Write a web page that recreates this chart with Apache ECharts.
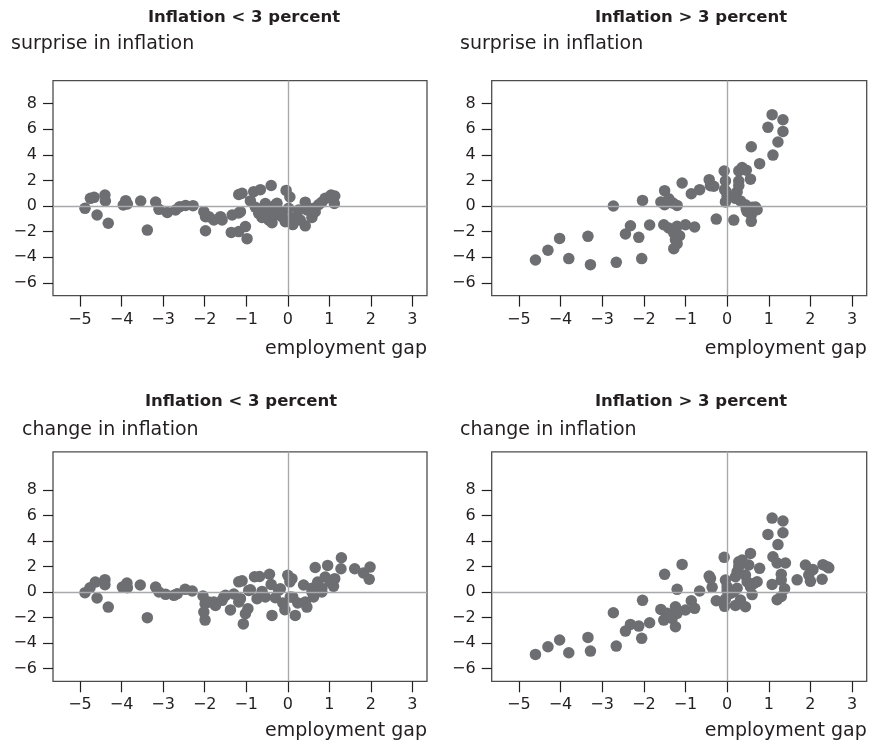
<!DOCTYPE html>
<html>
<head>
<meta charset="utf-8">
<script src="https://cdn.jsdelivr.net/npm/echarts@6/dist/echarts.min.js"></script>
<style>
  html, body { margin: 0; padding: 0; background: #ffffff; }
  #chart { width: 869px; height: 746px; }
</style>
</head>
<body>
<div id="chart"></div>
<script>
// Employment gap (x) vs. inflation measure (y), split by inflation regime.
const surpriseLow = [
  [-4.88,-0.18],[-4.75,0.6],[-4.66,0.68],[-4.4,0.86],[-4.39,0.39],[-4.59,-0.7],[-4.32,-1.35],
  [-3.96,0.08],[-3.9,0.42],[-3.86,0.16],[-3.54,0.39],[-3.38,-1.88],
  [-3.18,0.31],[-3.1,-0.26],[-2.9,-0.5],[-2.7,-0.31],[-2.6,-0.05],[-2.46,0.05],[-2.28,0.03],
  [-2.02,-0.44],[-1.98,-0.83],[-1.98,-1.93],[-1.9,-0.83],[-1.78,-1.09],[-1.62,-0.83],[-1.58,-1.09],
  [-1.34,-0.7],[-1.18,-0.55],[-1.14,-0.44],
  [-1.36,-2.06],[-1.18,-2.0],[-1.02,-1.61],[-0.98,-2.55],
  [-1.18,0.9],[-1.1,1.0],[-0.82,1.12],[-0.66,1.28],[-0.4,1.6],
  [-0.9,0.4],[-0.78,-0.1],[-0.7,-0.57],[-0.62,-0.9],[-0.58,-0.3],[-0.54,0.2],[-0.46,-1.09],
  [-0.46,-0.31],[-0.38,-1.3],[-0.3,0.08],[-0.3,-0.7],[-0.22,-0.35],[-0.26,0.21],[-0.14,-0.83],[-0.14,-0.5],
  [-0.04,1.22],[0.05,0.7],[0.02,-0.18],[-0.06,-1.22],[0.1,-0.96],[0.12,-1.45],[0.22,-0.83],[0.26,-0.31],
  [0.42,0.3],[0.46,-0.31],[0.42,-1.55],[0.58,-0.9],[0.66,-0.44],[0.74,0.1],[0.82,0.3],[0.9,0.6],
  [1.04,0.86],[1.13,0.78],[1.12,0.2],[0.3,-1.1],[0.6,-0.2]
];

const surpriseHigh = [
  [-4.6,-4.22],[-4.3,-3.46],[-4.02,-2.53],[-3.8,-4.11],[-3.34,-2.37],[-3.28,-4.58],[-2.66,-4.4],
  [-2.73,0],[-2.44,-2.19],[-2.32,-1.54],[-2.12,-2.45],[-2.05,-4.11],[-2.03,0.44],[-1.86,-1.48],
  [-1.59,0.31],[-1.5,1.2],[-1.5,0.1],[-1.4,0.57],[-1.3,0.23],[-1.2,0.05],[-1.52,-1.46],[-1.4,-1.72],
  [-1.28,-2.11],[-1.2,-1.59],[-1.14,-2.32],[-1.24,-2.63],[-1.2,-2.94],[-1.28,-3.33],[-1.08,1.8],
  [-1.0,-1.46],[-0.78,-1.64],[-0.86,0.96],[-0.66,1.28],[-0.43,2.06],[-0.4,1.59],[-0.32,1.54],
  [-0.26,-1.02],[-0.07,2.74],[-0.04,1.96],[-0.06,1.28],[-0.02,1.1],[0,0.76],[-0.04,0.32],[0.16,-1.1],
  [0.24,1.1],[0.28,1.6],[0.28,1.95],[0.28,2.75],[0.36,3.0],[0.46,2.8],[0.56,2.1],[0.58,4.63],[0.78,3.31],
  [0.2,0.6],[0.32,0.4],[0.44,0.1],[0.46,-0.23],[0.6,-0.1],[0.68,-0.08],[0.72,-0.29],[0.58,-0.68],
  [0.58,-1.2],[0.48,-0.42],[0.98,6.15],[1.08,7.14],[1.34,6.74],[1.34,5.83],[1.22,5.0],[1.1,3.98]
];

const changeLow = [
  [-4.88,-0.05],[-4.76,0.34],[-4.63,0.78],[-4.4,0.97],[-4.4,0.58],[-4.59,-0.47],[-4.32,-1.18],
  [-3.98,0.39],[-3.87,0.71],[-3.86,0.34],[-3.55,0.55],[-3.38,-2.01],[-3.18,0.39],[-3.1,0],
  [-2.94,-0.18],[-2.74,-0.26],[-2.66,-0.13],[-2.47,0.21],[-2.3,0.08],[-2.04,-0.31],[-2.02,-1.57],
  [-1.99,-0.92],[-1.99,-2.2],[-1.9,-0.78],[-1.78,-0.78],[-1.74,-1.05],[-1.58,-0.65],[-1.54,-0.39],
  [-1.5,-0.26],[-1.38,-1.4],[-1.3,-0.15],[-1.18,-0.78],[-1.14,-0.52],[-1.18,0.8],[-1.1,0.88],
  [-1.07,-2.5],[-1.02,-1.7],[-0.96,-1.3],[-0.94,0.13],[-0.9,0.18],[-0.8,1.2],[-0.68,1.22],
  [-0.74,-0.52],[-0.62,0.05],[-0.54,-0.39],[-0.44,1.4],[-0.4,0.6],[-0.38,-1.83],[-0.3,-0.45],
  [-0.22,0.15],[-0.18,0.26],[-0.12,-0.85],[-0.07,-1.39],[0.0,1.31],[0.05,0.8],[0.1,1.05],
  [0.06,-0.39],[0.12,-0.4],[0.18,-1.83],[0.24,-0.85],[0.38,0.55],[0.42,-0.78],[0.46,-1.18],
  [0.58,0.3],[0.58,0],[0.62,-0.39],[0.66,1.93],[0.72,0.78],[0.82,0.3],[0.82,0],[0.9,1.18],
  [0.96,2.09],[1.02,0.78],[1.1,0.45],[1.13,1.05],[1.28,1.83],[1.29,2.69],[1.61,1.83],[1.82,1.5],
  [1.98,1.96],[1.96,1.0]
];

const changeHigh = [
  [-4.6,-4.89],[-4.3,-4.29],[-4.02,-3.76],[-3.8,-4.76],[-3.34,-3.56],[-3.28,-4.63],[-2.66,-4.24],
  [-2.73,-1.62],[-2.44,-3.06],[-2.32,-2.54],[-2.12,-2.67],[-2.05,-3.63],[-2.03,-0.65],[-1.86,-2.41],
  [-1.59,-1.36],[-1.5,1.39],[-1.52,-2.2],[-1.44,-1.67],[-1.32,-2.07],[-1.24,-1.15],[-1.2,-1.67],
  [-1.24,-2.72],[-1.2,0.21],[-1.08,2.17],[-1.0,-1.41],[-0.86,-0.68],[-0.78,-1.28],[-0.66,0.08],
  [-0.43,1.25],[-0.36,0.37],[-0.4,1.07],[-0.26,-0.68],[-0.07,2.72],[-0.04,0.94],[0,0.42],[0,0.1],
  [-0.04,-0.55],[-0.06,-1.12],[0.08,-0.1],[0.16,0.03],[0.2,-1.05],[0.24,0.29],[0.28,2.38],[0.36,2.51],
  [0.24,1.59],[0.28,2.0],[0.2,1.2],[0.32,-0.63],[0.44,-1.15],[0.44,1.33],[0.48,0.81],[0.56,3.03],
  [0.6,-0.2],[0.52,2.12],[0.78,1.86],[0.64,0.68],[0.72,0.81],[0.56,0.42],[0.98,4.52],[1.08,5.8],
  [1.34,5.57],[1.34,4.65],[1.22,3.72],[1.1,2.77],[1.2,2.28],[1.4,2.28],[1.3,1.4],[1.3,0.94],
  [1.08,0.6],[1.38,0.25],[1.2,-0.6],[1.3,-0.34],[1.68,0.96],[1.88,2.12],[2.0,0.84],[2.06,1.76],
  [2.28,1.0],[2.3,2.15],[2.44,1.9],[2.4,1.99],[1.96,1.33]
];

const xTicks = [-5, -4, -3, -2, -1, 0, 1, 2, 3];
const yTicks = [-6, -4, -2, 0, 2, 4, 6, 8];

const panelTitles = ['Inflation < 3 percent', 'Inflation > 3 percent', 'Inflation < 3 percent', 'Inflation > 3 percent'];
const yNames = ['surprise in inflation', 'surprise in inflation', 'change in inflation', 'change in inflation'];
const xName = 'employment gap';
const panelData = [surpriseLow, surpriseHigh, changeLow, changeHigh];

// Plot-box geometry for each of the four panels
const layout = [
  { left: 53,    top: 80.6,  width: 374, height: 215,   yMin: -7, yMax: 9.8, titleX: 244, titleY: 18,  yNameX: 11,  yNameY: 44,  xNameY: 349 },
  { left: 491.7, top: 80.6,  width: 375, height: 215,   yMin: -7, yMax: 9.8, titleX: 691, titleY: 18,  yNameX: 460, yNameY: 44,  xNameY: 349 },
  { left: 53,    top: 451.8, width: 374, height: 229.5, yMin: -7, yMax: 11,  titleX: 241, titleY: 402, yNameX: 22,  yNameY: 430, xNameY: 731 },
  { left: 491.7, top: 451.8, width: 375, height: 229.5, yMin: -7, yMax: 11,  titleX: 691, titleY: 402, yNameX: 460, yNameY: 430, xNameY: 731 }
];

const FONT = '"DejaVu Sans", sans-serif';
const TEXT = '#231f20';
const DOT = '#6d6e71';
const ZERO = '#a7a9ac';
const minus = v => (v < 0 ? '\u2212' + (-v) : String(v));

const grid = [], xAxis = [], yAxis = [], series = [], graphic = [];

layout.forEach((p, i) => {
  grid.push({
    left: p.left, top: p.top, width: p.width, height: p.height,
    show: true, borderColor: '#4d4d4f', borderWidth: 1.3, backgroundColor: 'transparent',
    containLabel: false
  });
  xAxis.push({
    type: 'value', gridIndex: i, min: -5.65, max: 3.35,
    axisLine: { show: false, onZero: false },
    splitLine: { show: false },
    axisTick: { show: true, length: 11, customValues: xTicks, lineStyle: { color: '#231f20', width: 1.2 } },
    axisLabel: { customValues: xTicks, formatter: minus, margin: 16, fontFamily: FONT, fontSize: 16, color: TEXT }
  });
  yAxis.push({
    type: 'value', gridIndex: i, min: p.yMin, max: p.yMax,
    axisLine: { show: false, onZero: false },
    splitLine: { show: false },
    axisTick: { show: true, length: 10, customValues: yTicks, lineStyle: { color: '#231f20', width: 1.2 } },
    axisLabel: { customValues: yTicks, formatter: minus, margin: 16, fontFamily: FONT, fontSize: 16, color: TEXT }
  });
  // zero reference lines, drawn beneath the dots
  series.push({
    type: 'scatter', xAxisIndex: i, yAxisIndex: i, data: [], z: 1, silent: true,
    markLine: {
      silent: true, symbol: ['none', 'none'], animation: false,
      label: { show: false },
      lineStyle: { color: ZERO, type: 'solid', width: 1.4 },
      data: [{ xAxis: 0 }, { yAxis: 0 }]
    }
  });
  series.push({
    type: 'scatter', xAxisIndex: i, yAxisIndex: i, z: 3,
    data: panelData[i], symbol: 'circle', symbolSize: 11.5,
    itemStyle: { color: DOT, opacity: 1 }
  });
  graphic.push(
    { type: 'text', x: p.titleX, y: p.titleY,
      style: { text: panelTitles[i], font: 'bold 16.5px ' + FONT, fill: TEXT, align: 'center', verticalAlign: 'middle' } },
    { type: 'text', x: p.yNameX, y: p.yNameY,
      style: { text: yNames[i], font: '19px ' + FONT, fill: TEXT, align: 'left', verticalAlign: 'middle' } },
    { type: 'text', x: p.left + p.width, y: p.xNameY,
      style: { text: xName, font: '19px ' + FONT, fill: TEXT, align: 'right', verticalAlign: 'middle' } }
  );
});

const chart = echarts.init(document.getElementById('chart'), null, { renderer: 'canvas' });
chart.setOption({
  animation: false,
  backgroundColor: '#ffffff',
  grid, xAxis, yAxis, series, graphic
});
</script>
</body>
</html>
